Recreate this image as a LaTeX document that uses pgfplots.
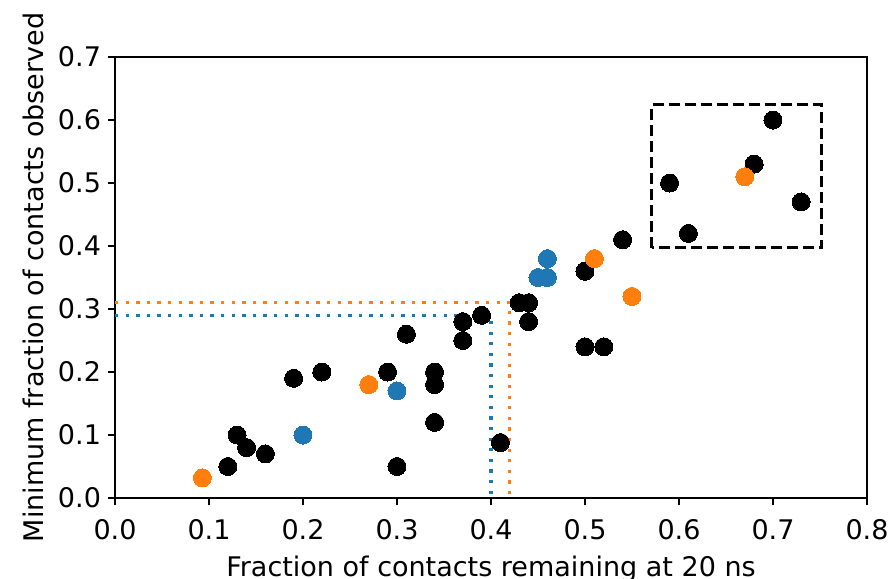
\documentclass[border=0pt]{standalone}
\usepackage{fontspec}
\setmainfont{DejaVu Sans}
\usepackage{pgfplots}
\pgfplotsset{compat=1.18}

\definecolor{mplblue}{HTML}{1F77B4}
\definecolor{mplorange}{HTML}{FF7F0E}

\begin{document}
\begin{tikzpicture}
\begin{axis}[
  scale only axis,
  width=376pt, height=220.5pt,
  xmin=0, xmax=0.8, ymin=0, ymax=0.7,
  xtick={0,0.1,...,0.8}, ytick={0,0.1,...,0.7},
  axis line style={line width=0.8pt},
  tick style={line width=0.8pt, black},
  tick align=outside,
  major tick length=3.5pt,
  xtick pos=bottom, ytick pos=left,
  /pgf/number format/.cd, fixed, fixed zerofill, precision=1, assume math mode=true,
  /pgfplots/.cd,
  every tick label/.append style={font=\fontsize{13.5}{16}\selectfont},
  xticklabel style={yshift=-3.5pt},
  label style={font=\fontsize{13.5}{16}\selectfont},
  xlabel style={yshift=-1.5pt},
  xlabel={Fraction of contacts remaining at 20 ns},
  ylabel={Minimum fraction of contacts observed},
  clip=false,
]
% black: all other systems
\addplot[only marks, mark=*, mark size=4.5pt, color=black, mark options={fill=black, draw=black, line width=0pt}] coordinates {
  (0.12,0.05) (0.13,0.10) (0.14,0.08) (0.16,0.07) (0.19,0.19) (0.22,0.20)
  (0.29,0.20) (0.30,0.05) (0.31,0.26) (0.34,0.20) (0.34,0.18) (0.34,0.12)
  (0.37,0.28) (0.37,0.25) (0.39,0.29) (0.41,0.088) (0.43,0.31) (0.44,0.31)
  (0.44,0.28) (0.50,0.36) (0.50,0.24) (0.52,0.24) (0.54,0.41) (0.59,0.50)
  (0.61,0.42) (0.68,0.53) (0.70,0.60) (0.73,0.47)
};
% orange group
\addplot[only marks, mark=*, mark size=4.5pt, color=mplorange, mark options={fill=mplorange, draw=mplorange, line width=0pt}] coordinates {
  (0.093,0.032) (0.27,0.18) (0.51,0.38) (0.55,0.32) (0.67,0.51)
};
% blue group
\addplot[only marks, mark=*, mark size=4.5pt, color=mplblue, mark options={fill=mplblue, draw=mplblue, line width=0pt}] coordinates {
  (0.20,0.10) (0.30,0.17) (0.45,0.35) (0.46,0.35) (0.46,0.38)
};
% threshold guides
\addplot[mplblue, line width=1.65pt, dash pattern=on 1.65pt off 3.65pt, line cap=butt] coordinates {
  (0,0.29) (0.40,0.29) (0.40,0)
};
\addplot[mplorange, line width=1.65pt, dash pattern=on 1.65pt off 3.65pt, line cap=butt] coordinates {
  (0,0.31) (0.42,0.31) (0.42,0)
};
% highlighted region
\addplot[black, line width=1.5pt, dash pattern=on 5.5pt off 2.5pt] coordinates {
  (0.571,0.397) (0.571,0.624) (0.752,0.624) (0.752,0.397) (0.571,0.397)
};
\end{axis}
\pgfresetboundingbox
\path[use as bounding box] (-57.5pt,-40pt) rectangle (388.5pt,249pt);
\end{tikzpicture}
\end{document}
